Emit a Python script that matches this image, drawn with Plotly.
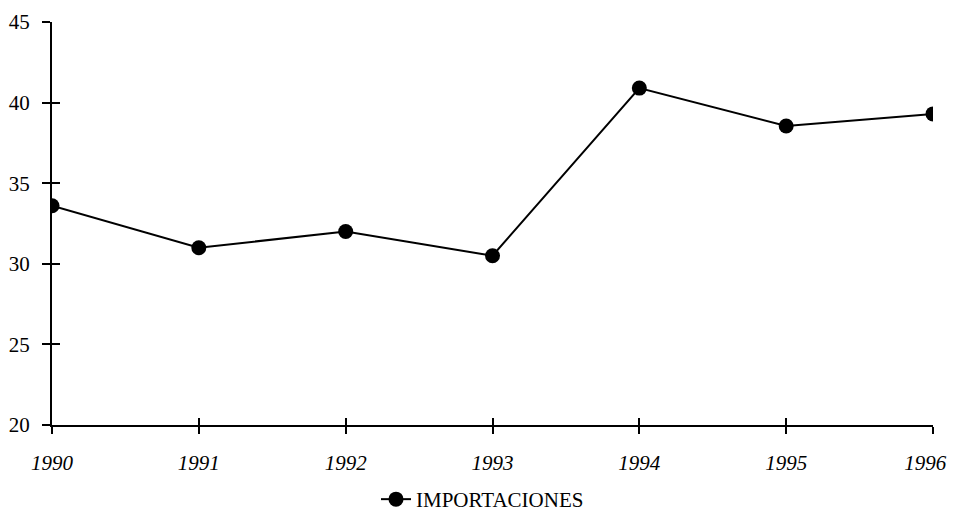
import plotly.graph_objects as go

years = ["1990", "1991", "1992", "1993", "1994", "1995", "1996"]
importaciones = [33.6, 31.0, 32.0, 30.5, 40.9, 38.55, 39.3]
y_ticks = [20, 25, 30, 35, 40, 45]

font_family = "'Liberation Serif', 'DejaVu Serif', serif"

# last label padded so it stays inside the page edge
tick_text = ["<i>%s</i>" % y for y in years]
tick_text[-1] = "<i>%s</i>\u00a0\u00a0\u00a0" % years[-1]

fig = go.Figure()
fig.add_trace(go.Scatter(
    x=list(range(len(years))), y=importaciones, mode="lines+markers",
    name="IMPORTACIONES",
    line=dict(color="black", width=2),
    marker=dict(color="black", size=15),
))
# invisible trace for inner (crossing) ticks
fig.add_trace(go.Scatter(x=[0], y=[20], xaxis="x2", yaxis="y2", mode="markers",
                         marker=dict(opacity=0), showlegend=False, hoverinfo="skip"))

fig.update_layout(
    width=949, height=512,
    margin=dict(l=44, r=24, t=14, b=95, autoexpand=False),
    plot_bgcolor="white", paper_bgcolor="white",
    font=dict(family=font_family, size=21, color="black"),
    showlegend=True,
    legend=dict(orientation="h", x=0.5, xanchor="center", xref="container",
                y=-0.015, yanchor="bottom", yref="container",
                font=dict(size=21, family=font_family)),
    xaxis=dict(range=[0, 6], tickmode="array", tickvals=list(range(len(years))),
               ticktext=tick_text, automargin=False,
               ticklabeloverflow="allow",
               showgrid=False, zeroline=False, showline=True, linecolor="black",
               linewidth=2, ticks="outside", ticklen=7, tickwidth=2,
               tickcolor="black", ticklabelstandoff=11),
    yaxis=dict(range=[20, 45], tickmode="array", tickvals=y_ticks, automargin=False,
               showgrid=False, zeroline=False, showline=True, linecolor="black",
               linewidth=2, ticks="outside", ticklen=8, tickwidth=2,
               tickcolor="black", ticklabelstandoff=8),
    xaxis2=dict(range=[0, 6], overlaying="x", tickmode="array", automargin=False,
                tickvals=list(range(len(years))), showticklabels=False,
                showgrid=False, zeroline=False, ticks="inside", ticklen=7,
                tickwidth=2, tickcolor="black", side="bottom"),
    yaxis2=dict(range=[20, 45], overlaying="y", tickmode="array", tickvals=y_ticks,
                showticklabels=False, showgrid=False, zeroline=False, automargin=False,
                ticks="inside", ticklen=8, tickwidth=2, tickcolor="black", side="left"),
)

fig.write_html("out.html")
